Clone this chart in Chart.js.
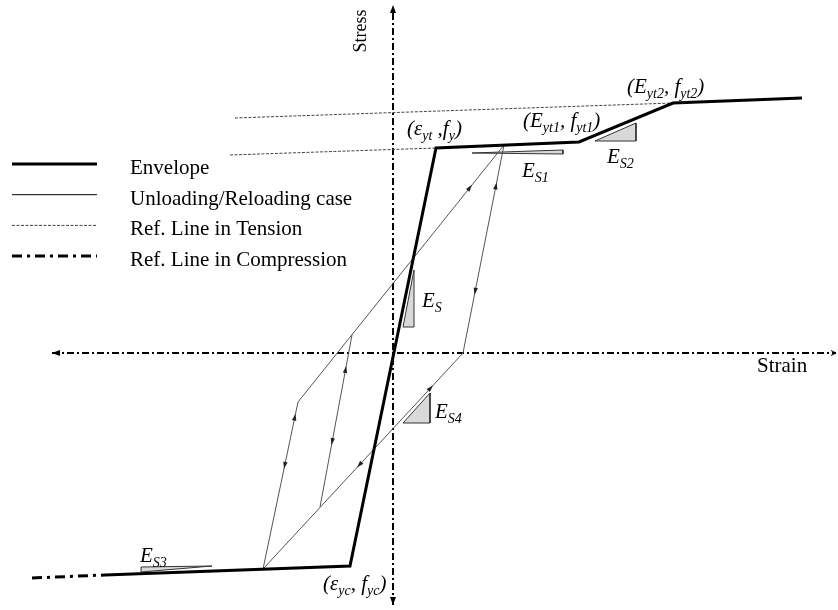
<!DOCTYPE html>
<html>
<head>
<meta charset="utf-8">
<script src="https://cdn.jsdelivr.net/npm/chart.js"></script>
<style>
  body{margin:0;background:#fff;}
  #wrap{position:relative;width:838px;height:610px;}
</style>
</head>
<body>
<div id="wrap"><canvas id="myChart" width="838" height="610"></canvas></div>
<script>
// strain / stress in arbitrary schematic units (origin at the axes cross)
var envStrain = [-28.8, -4.3, 4.3, 18.6, 28.0, 40.9];
var envStress = [-22.2, -21.3, 20.5, 21.1, 25.0, 25.5];

var compRefStrain = [-36.1, -28.8];
var compRefStress = [-22.5, -22.2];

var tensRef1Strain = [-15.8, 28.0];
var tensRef1Stress = [23.5, 25.0];
var tensRef2Strain = [-16.3, 4.3];
var tensRef2Stress = [19.8, 20.5];

// outer unloading / reloading loop
var cycleStrain = [-13.0, -9.5, 11.1, 7.0, -13.0];
var cycleStress = [-21.6, -4.9, 20.8, 0.0, -21.6];
// inner reloading branch
var innerStrain = [-7.3, -4.1];
var innerStress = [-15.4, 1.8];

// arrow heads: [path, from vertex, to vertex, fraction along]
var arrowHeads = [
  ['cycle', 0, 1, 0.93], ['cycle', 1, 0, 0.40],
  ['cycle', 1, 2, 0.845],
  ['cycle', 2, 3, 0.72], ['cycle', 3, 2, 0.82],
  ['cycle', 3, 4, 0.53], ['cycle', 4, 3, 0.85],
  ['inner', 0, 1, 0.82], ['inner', 1, 0, 0.64]
];

// slope triangles
var triES  = {x: [2.1, 1.0, 2.1, 2.1],     y: [8.3, 2.6, 2.6, 8.3]};
var triES1 = {x: [7.9, 17.0, 17.0, 7.9],   y: [20.0, 20.3, 19.9, 20.0]};
var triES2 = {x: [20.2, 24.3, 24.3, 20.2], y: [21.2, 23.0, 21.2, 21.2]};
var triES3 = {x: [-25.2, -18.1, -25.2, -25.2], y: [-21.4, -21.3, -21.9, -21.4]};
var triES4 = {x: [1.0, 3.7, 3.7, 1.0],     y: [-7.0, -4.0, -7.0, -7.0]};

// axes extents
var axisStrain = [-34.1, 44.3];
var axisStress = [-25.2, 34.8];

// annotations: text, strain, stress (baseline left)
var noteText   = ['(\u03b5_{yt} ,f_{y})', '(E_{yt1}, f_{yt1})', '(E_{yt2}, f_{yt2})', 'E_{S1}', 'E_{S2}', 'E_{S}', 'E_{S4}', 'E_{S3}', '(\u03b5_{yc}, f_{yc})'];
var noteStrain = [1.4, 13.0, 23.4, 12.9, 21.4, 2.9, 4.2, -25.3, -7.0];
var noteStress = [21.8, 22.6, 26.0, 17.6, 19.0, 4.6, -6.5, -20.9, -23.7];

var legendLabels = ['Envelope', 'Unloading/Reloading case', 'Ref. Line in Tension', 'Ref. Line in Compression'];

function pts(xs, ys){
  var out = [];
  for (var i = 0; i < xs.length; i++) out.push({x: xs[i], y: ys[i]});
  return out;
}

function lineSet(data, color, width, dash){
  return {data: data, showLine: true, borderColor: color, borderWidth: width,
          borderDash: dash || [], pointRadius: 0, fill: false, tension: 0};
}

function triSet(t){
  return {data: pts(t.x, t.y), showLine: true, borderColor: '#333', borderWidth: 1,
          backgroundColor: '#d9d9d9', fill: 'shape', pointRadius: 0, tension: 0};
}

function drawRich(ctx, str, x, y){
  var parts = str.split(/(_\{[^}]*\})/);
  for (var i = 0; i < parts.length; i++){
    var p = parts[i];
    if (!p) continue;
    if (p.charAt(0) == '_'){
      p = p.slice(2, -1);
      ctx.font = 'italic 14px "Liberation Serif"';
      ctx.fillText(p, x, y + 5);
    } else {
      ctx.font = 'italic 21px "Liberation Serif"';
      ctx.fillText(p, x, y);
    }
    x += ctx.measureText(p).width;
  }
}

function arrow(ctx, x, y, ang, len, half, open){
  ctx.save();
  ctx.translate(x, y);
  ctx.rotate(ang);
  ctx.beginPath();
  ctx.moveTo(-len, -half);
  ctx.lineTo(0, 0);
  ctx.lineTo(-len, half);
  if (open){
    ctx.lineWidth = 1;
    ctx.stroke();
  } else {
    ctx.closePath();
    ctx.fill();
  }
  ctx.restore();
}

var decorations = {
  id: 'decorations',
  afterDatasetsDraw: function(chart){
    var ctx = chart.ctx;
    var xs = chart.scales.x, ys = chart.scales.y;
    var X = function(v){ return xs.getPixelForValue(v); };
    var Y = function(v){ return ys.getPixelForValue(v); };
    ctx.save();
    ctx.fillStyle = '#000';
    ctx.strokeStyle = '#000';

    // loading path arrows
    var paths = {cycle: [cycleStrain, cycleStress], inner: [innerStrain, innerStress]};
    arrowHeads.forEach(function(a){
      var p = paths[a[0]];
      var x0 = X(p[0][a[1]]), y0 = Y(p[1][a[1]]);
      var x1 = X(p[0][a[2]]), y1 = Y(p[1][a[2]]);
      var t = a[3];
      ctx.fillStyle = '#222';
      arrow(ctx, x0 + (x1 - x0) * t, y0 + (y1 - y0) * t, Math.atan2(y1 - y0, x1 - x0), 7, 2.2, false);
    });

    // axis arrow heads
    ctx.fillStyle = '#000';
    arrow(ctx, X(0), Y(axisStress[1]), -Math.PI / 2, 8, 3, false);
    arrow(ctx, X(0), Y(axisStress[0]), Math.PI / 2, 8, 3, false);
    arrow(ctx, X(axisStrain[0]), Y(0), Math.PI, 8, 3, false);
    arrow(ctx, X(axisStrain[1]), Y(0), 0, 5, 2.5, true);

    // annotations
    ctx.fillStyle = '#000';
    ctx.textBaseline = 'alphabetic';
    for (var i = 0; i < noteText.length; i++){
      drawRich(ctx, noteText[i], X(noteStrain[i]), Y(noteStress[i]));
    }

    // axis titles
    ctx.font = '21px "Liberation Serif"';
    ctx.fillText('Strain', X(36.4), Y(-1.9));
    ctx.save();
    ctx.translate(X(-2.7), Y(32.2));
    ctx.rotate(-Math.PI / 2);
    ctx.font = '18px "Liberation Serif"';
    ctx.textAlign = 'center';
    ctx.fillText('Stress', 0, 0);
    ctx.restore();

    // legend
    var styles = [
      {w: 3, dash: [], c: '#000'},
      {w: 1, dash: [], c: '#000'},
      {w: 1, dash: [3, 1.5], c: '#444'},
      {w: 3, dash: [10, 5, 3, 5], c: '#000'}
    ];
    for (var k = 0; k < legendLabels.length; k++){
      var ly = 164 + k * 30.7;
      ctx.beginPath();
      ctx.lineWidth = styles[k].w;
      ctx.strokeStyle = styles[k].c;
      ctx.setLineDash(styles[k].dash);
      ctx.moveTo(12, ly);
      ctx.lineTo(97, ly);
      ctx.stroke();
      ctx.setLineDash([]);
      ctx.font = '21px "Liberation Serif"';
      ctx.fillText(legendLabels[k], 130, ly + 10);
    }
    ctx.restore();
  }
};

function printchart(){
  var ctx = document.getElementById('myChart').getContext('2d');
  var myChart = new Chart(ctx, {
    type: 'scatter',
    data: {
      datasets: [
        lineSet(pts(envStrain, envStress), '#000', 3),
        lineSet(pts(compRefStrain, compRefStress), '#000', 3, [10, 5, 3, 5]),
        lineSet(pts(tensRef1Strain, tensRef1Stress), '#444', 1, [3, 1.5]),
        lineSet(pts(tensRef2Strain, tensRef2Stress), '#444', 1, [3, 1.5]),
        lineSet(pts(cycleStrain, cycleStress), '#555', 1),
        lineSet(pts(innerStrain, innerStress), '#555', 1),
        lineSet(pts([0, 0], axisStress), '#000', 2, [7, 3, 2, 3]),
        lineSet(pts(axisStrain, [0, 0]), '#000', 2, [7, 3, 2, 3]),
        triSet(triES), triSet(triES1), triSet(triES2), triSet(triES3), triSet(triES4)
      ]
    },
    options: {
      responsive: false,
      animation: false,
      layout: {padding: 0},
      plugins: {legend: {display: false}, tooltip: {enabled: false}},
      scales: {
        x: {type: 'linear', min: -39.3, max: 44.5, display: false},
        y: {type: 'linear', min: -25.7, max: 35.3, display: false}
      }
    },
    plugins: [decorations]
  });
}
printchart();
</script>
</body>
</html>
